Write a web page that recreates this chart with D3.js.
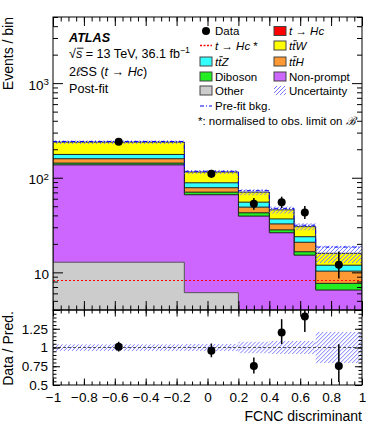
<!DOCTYPE html>
<html><head><meta charset="utf-8">
<script src="https://cdn.jsdelivr.net/npm/d3@7"></script>
<style>
body{margin:0;background:#fff}
svg{display:block;font-family:"Liberation Sans",Arial,Helvetica,sans-serif}
</style>
</head><body>
<svg id="c" width="382" height="431"></svg>
<script>
// ---------------- data ----------------
const binEdges   = [-1, -0.15, 0.2, 0.4, 0.56, 0.7, 1];
const other      = [12.8, 6.1, 2.5, 2.0, 1.5, 1.0];
const nonPrompt  = [124, 60, 36.8, 24.2, 13.7, 5.5];
const diboson    = [6.0, 4.3, 3.3, 1.9, 1.3, 1.15];
const ttH        = [16, 8.0, 6.3, 4.4, 4.3, 2.65];
const ttZ        = [17.5, 10, 6.3, 4.2, 3.0, 1.6];
const ttW        = [61.5, 26.5, 15.2, 9.1, 6.6, 4.0];
const signalNorm = [8.2, 8.2, 8.2, 8.2, 8.2, 8.2];   // t -> Hc *, normalised to obs. limit
const preFitBkg  = [242, 117, 73, 47.5, 31.5, 18.5];
const relUnc     = [0.045, 0.05, 0.08, 0.09, 0.09, 0.21];
const dataVals   = [240, 110, 53, 55, 43, 12];
const dataErrLo  = [15.0, 10.0, 7.0, 7.1, 6.3, 3.4];
const dataErrHi  = [16.0, 11.0, 8.0, 8.1, 7.4, 4.6];
const xTickVals  = [-1, -0.8, -0.6, -0.4, -0.2, 0, 0.2, 0.4, 0.6, 0.8, 1];
const yTickVals  = [10, 100, 1000];
const rTickVals  = [0.5, 0.75, 1, 1.25];

const compNames  = ["Other", "Non-prompt", "Diboson", "ttH", "ttZ", "ttW"];
const compVals   = [other, nonPrompt, diboson, ttH, ttZ, ttW];
const compColors = ["#cccccc", "#cc66ff", "#22ee22", "#ff9933", "#33ffff", "#ffff00"];
const compStroke = ["#555555", "#222222", "#222222", "#222222", "#222222", "#222222"];
const hatchColor = "#7a7aff";

// ---------------- layout ----------------
const L = 53, R = 362, T = 17, B = 310, RB = 385;
const svg = d3.select("#c");
const x  = d3.scaleLinear().domain([-1, 1]).range([L, R]);
const y  = d3.scaleLog().domain([4, 5000]).range([B, T]);
const yr = d3.scaleLinear().domain([0.5, 1.5]).range([RB, B]);

const defs = svg.append("defs");
defs.append("clipPath").attr("id", "clipMain").append("rect")
  .attr("x", L).attr("y", T).attr("width", R - L).attr("height", B - T);
defs.append("clipPath").attr("id", "clipRatio").append("rect")
  .attr("x", L).attr("y", B).attr("width", R - L).attr("height", RB - B);

let hatchId = 0;
function hatchRect(g, x0, y0, w, h) {
  const id = "hc" + (hatchId++);
  defs.append("clipPath").attr("id", id).append("rect")
    .attr("x", x0).attr("y", y0).attr("width", w).attr("height", h);
  const hg = g.append("g").attr("clip-path", `url(#${id})`);
  const start = Math.floor((x0 - h) / 4) * 4;
  for (let s = start; s <= x0 + w; s += 4) {
    hg.append("line").attr("x1", s).attr("y1", y0 + h).attr("x2", s + h).attr("y2", y0)
      .attr("stroke", hatchColor).attr("stroke-width", 1);
  }
}

const nb = dataVals.length;
const bins = d3.range(nb);
// cumulative
const cum = [];
compVals.forEach((arr, k) => {
  cum.push(arr.map((v, i) => v + (k > 0 ? cum[k - 1][i] : 0)));
});
const total = cum[cum.length - 1];

const clampY = v => Math.min(B + 2, y(Math.max(v, 1e-3)));
function stepArea(vals) {
  let p = `M${x(binEdges[0])},${B + 2}`;
  bins.forEach(i => {
    p += `L${x(binEdges[i])},${clampY(vals[i])}L${x(binEdges[i + 1])},${clampY(vals[i])}`;
  });
  p += `L${x(binEdges[nb])},${B + 2}Z`;
  return p;
}
function stepLine(vals, sc) {
  let p = "";
  bins.forEach(i => {
    p += (i === 0 ? "M" : "L") + `${x(binEdges[i])},${sc(vals[i])}L${x(binEdges[i + 1])},${sc(vals[i])}`;
  });
  return p;
}

// ---------------- main panel ----------------
const gMain = svg.append("g").attr("clip-path", "url(#clipMain)");
for (let k = cum.length - 1; k >= 0; k--) {
  gMain.append("path").attr("d", stepArea(cum[k]))
    .attr("fill", compColors[k]).attr("stroke", compStroke[k]).attr("stroke-width", 1);
}
// uncertainty band
bins.forEach(i => {
  const y0 = y(total[i] * (1 + relUnc[i])), y1 = y(total[i] * (1 - relUnc[i]));
  hatchRect(gMain, x(binEdges[i]), y0, x(binEdges[i + 1]) - x(binEdges[i]), y1 - y0);
});
// pre-fit
gMain.append("path").attr("d", stepLine(preFitBkg, y)).attr("fill", "none")
  .attr("stroke", "#0000ff").attr("stroke-width", 1).attr("stroke-dasharray", "4,2,1,2");
// signal
gMain.append("path").attr("d", stepLine(signalNorm, y)).attr("fill", "none")
  .attr("stroke", "#ff0000").attr("stroke-width", 1.2).attr("stroke-dasharray", "2,2");
// data
const xc = i => x((binEdges[i] + binEdges[i + 1]) / 2);
gMain.selectAll("line.err").data(bins).join("line").attr("class", "err")
  .attr("x1", xc).attr("x2", xc)
  .attr("y1", i => y(dataVals[i] - dataErrLo[i])).attr("y2", i => y(dataVals[i] + dataErrHi[i]))
  .attr("stroke", "#000").attr("stroke-width", 1.5);
gMain.selectAll("circle.dat").data(bins).join("circle").attr("class", "dat")
  .attr("cx", xc).attr("cy", i => y(dataVals[i])).attr("r", 4).attr("fill", "#000");

// ---------------- ratio panel ----------------
const gRat = svg.append("g").attr("clip-path", "url(#clipRatio)");
bins.forEach(i => {
  const y0 = yr(1 + relUnc[i]), y1 = yr(1 - relUnc[i]);
  hatchRect(gRat, x(binEdges[i]), y0, x(binEdges[i + 1]) - x(binEdges[i]), y1 - y0);
});
gRat.append("line").attr("x1", L).attr("x2", R).attr("y1", yr(1)).attr("y2", yr(1))
  .attr("stroke", "#555").attr("stroke-width", 1.2).attr("stroke-dasharray", "3,2");
gRat.selectAll("line.err").data(bins).join("line")
  .attr("x1", xc).attr("x2", xc)
  .attr("y1", i => yr((dataVals[i] - dataErrLo[i]) / total[i]))
  .attr("y2", i => yr((dataVals[i] + dataErrHi[i]) / total[i]))
  .attr("stroke", "#000").attr("stroke-width", 1.5);
gRat.selectAll("circle").data(bins).join("circle")
  .attr("cx", xc).attr("cy", i => yr(dataVals[i] / total[i])).attr("r", 4).attr("fill", "#000");

// ---------------- axes ----------------
const fs = 13.5;
function style(g) {
  g.select(".domain").remove();
  g.selectAll(".tick line").attr("stroke", "#000").attr("stroke-width", 1);
  g.selectAll("text").attr("font-size", fs).attr("fill", "#000").attr("font-family", null);
}
const xMinor = d3.range(-1, 1.0001, 0.05).map(v => +v.toFixed(2));
const fmtX = d => d3.format("")(d);
// main x (bottom & top, no labels)
[[B, d3.axisBottom, -9, -4.5], [T, d3.axisTop, -9, -4.5]].forEach(([yy, ax, maj, mn]) => {
  svg.append("g").attr("transform", `translate(0,${yy})`).call(ax(x).tickValues(xMinor).tickSize(mn).tickFormat("")).call(style);
  svg.append("g").attr("transform", `translate(0,${yy})`).call(ax(x).tickValues(xTickVals).tickSize(maj).tickFormat("")).call(style);
});
// ratio x
svg.append("g").attr("transform", `translate(0,${B})`).call(d3.axisTop(x).tickValues(xMinor).tickSize(-3.5).tickFormat("")).call(style);
svg.append("g").attr("transform", `translate(0,${B})`).call(d3.axisTop(x).tickValues(xTickVals).tickSize(-6.5).tickFormat("")).call(style);
svg.append("g").attr("transform", `translate(0,${RB})`).call(d3.axisBottom(x).tickValues(xMinor).tickSize(-3.5).tickFormat("")).call(style);
svg.append("g").attr("transform", `translate(0,${RB})`)
  .call(d3.axisBottom(x).tickValues(xTickVals).tickSize(-6.5).tickPadding(7).tickFormat(fmtX)).call(style);

// main y log
const yMinor = [];
[1, 10, 100, 1000].forEach(d => d3.range(2, 10).forEach(m => { const v = d * m; if (v >= 4 && v <= 5000) yMinor.push(v); }));
[[L, d3.axisLeft], [R, d3.axisRight]].forEach(([xx, ax]) => {
  svg.append("g").attr("transform", `translate(${xx},0)`).call(ax(y).tickValues(yMinor).tickSize(-5).tickFormat("")).call(style);
});
svg.append("g").attr("transform", `translate(${R},0)`).call(d3.axisRight(y).tickValues(yTickVals).tickSize(-10).tickFormat("")).call(style);
const gy = svg.append("g").attr("transform", `translate(${L},0)`)
  .call(d3.axisLeft(y).tickValues(yTickVals).tickSize(-10).tickPadding(4).tickFormat(d => String(d))).call(style);
gy.selectAll(".tick text").each(function (d) {
  const t = d3.select(this);
  t.text(null).attr("dy", "0.45em");
  if (d === 10) { t.append("tspan").text("10"); }
  else {
    t.append("tspan").text("10");
    t.append("tspan").attr("dy", "-0.45em").attr("font-size", fs * 0.72).text(String(Math.round(Math.log10(d))));
  }
});

// ratio y
const rMinor = d3.range(0.5, 1.5001, 0.05).map(v => +v.toFixed(2));
[[L, d3.axisLeft], [R, d3.axisRight]].forEach(([xx, ax]) => {
  svg.append("g").attr("transform", `translate(${xx},0)`).call(ax(yr).tickValues(rMinor).tickSize(-3.5).tickFormat("")).call(style);
  svg.append("g").attr("transform", `translate(${xx},0)`).call(ax(yr).tickValues([0.5, 0.75, 1, 1.25, 1.5]).tickSize(-7).tickFormat("")).call(style);
});
svg.append("g").attr("transform", `translate(${L},0)`)
  .call(d3.axisLeft(yr).tickValues(rTickVals).tickSize(0).tickPadding(5).tickFormat(d => String(d))).call(style);

// frames
svg.append("rect").attr("x", L).attr("y", T).attr("width", R - L).attr("height", B - T)
  .attr("fill", "none").attr("stroke", "#000").attr("stroke-width", 1);
svg.append("rect").attr("x", L).attr("y", B).attr("width", R - L).attr("height", RB - B)
  .attr("fill", "none").attr("stroke", "#000").attr("stroke-width", 1);

// axis titles
svg.append("text").attr("transform", `translate(13,${T}) rotate(-90)`).attr("text-anchor", "end")
  .attr("font-size", 14).text("Events / bin");
svg.append("text").attr("transform", `translate(13,${(B + RB) / 2 + 1}) rotate(-90)`).attr("text-anchor", "middle")
  .attr("font-size", 14).text("Data / Pred.");
svg.append("text").attr("x", R).attr("y", 421).attr("text-anchor", "end")
  .attr("font-size", 14).text("FCNC discriminant");

// ---------------- rich text helper ----------------
// parts: [text, flags]  flags: i=italic, b=overbar, s=superscript, B=bold
function rich(g, xx, yy, parts, size) {
  const t = g.append("text").attr("x", xx).attr("y", yy).attr("font-size", size).attr("fill", "#000");
  const bars = [];
  parts.forEach(([txt, f]) => {
    f = f || "";
    const sp = t.append("tspan").text(txt);
    if (f.includes("i")) sp.attr("font-style", "italic");
    if (f.includes("B")) sp.attr("font-weight", "bold");
    if (f.includes("s")) sp.attr("font-size", size * 0.7).attr("dy", -size * 0.38);
    if (f.includes("b")) bars.push(sp);
  });
  bars.forEach(sp => {
    const bb = sp.node().getBBox();
    g.append("line").attr("x1", bb.x + 1.2).attr("x2", bb.x + bb.width + 0.6)
      .attr("y1", bb.y + 1.2).attr("y2", bb.y + 1.2).attr("stroke", "#000").attr("stroke-width", 0.9);
  });
  return t;
}

// ---------------- labels ----------------
const gl = svg.append("g");
rich(gl, 69, 41.5, [["ATLAS", "iB"]], 12.6);
rich(gl, 69, 58, [["√"], ["s", "ib"], [" = 13 TeV, 36.1 fb"], ["−1", "s"]], 12.6);
rich(gl, 69, 76, [["2"], ["ℓ", "i"], ["SS  ("], ["t", "i"], [" → "], ["Hc", "i"], [")"]], 12.6);
rich(gl, 69, 92.5, [["Post-fit"]], 12.6);

// ---------------- legend ----------------
const lf = 11.5;
const rowY = [31, 45.5, 61.5, 76.5, 90.5, 106];
const c1 = 200, c2 = 274, bw = 12, bh = 9;
const leg = svg.append("g");
// column 1
leg.append("circle").attr("cx", c1 + 6).attr("cy", rowY[0]).attr("r", 4).attr("fill", "#000");
rich(leg, 215, rowY[0] + 4, [["Data"]], lf);
leg.append("line").attr("x1", c1).attr("x2", c1 + 12).attr("y1", rowY[1]).attr("y2", rowY[1])
  .attr("stroke", "#ff0000").attr("stroke-width", 1.5).attr("stroke-dasharray", "2,1.5");
rich(leg, 215, rowY[1] + 4, [["t", "i"], [" → "], ["Hc", "i"], [" *"]], lf);
const box = (xx, yy, col) => leg.append("rect").attr("x", xx).attr("y", yy - bh / 2).attr("width", bw).attr("height", bh)
  .attr("fill", col).attr("stroke", "#444").attr("stroke-width", 1);
box(c1, rowY[2], compColors[4]); rich(leg, 215, rowY[2] + 4, [["t", "i"], ["t", "ib"], ["Z", "i"]], lf);
box(c1, rowY[3], compColors[2]); rich(leg, 215, rowY[3] + 4, [["Diboson"]], lf);
box(c1, rowY[4], compColors[0]); rich(leg, 215, rowY[4] + 4, [["Other"]], lf);
leg.append("line").attr("x1", c1).attr("x2", c1 + 12).attr("y1", rowY[5]).attr("y2", rowY[5])
  .attr("stroke", "#0000ff").attr("stroke-width", 1).attr("stroke-dasharray", "4,2,1,2");
rich(leg, 215, rowY[5] + 4, [["Pre-fit bkg."]], lf);
rich(leg, 198, 124.5, [["*: normalised to obs. limit on "], ["ℬ", "i"]], lf);
// column 2
box(c2, rowY[0], "#ff0000"); rich(leg, 289, rowY[0] + 4, [["t", "i"], [" → "], ["Hc", "i"]], lf);
box(c2, rowY[1], compColors[5]); rich(leg, 289, rowY[1] + 4, [["t", "i"], ["t", "ib"], ["W", "i"]], lf);
box(c2, rowY[2], compColors[3]); rich(leg, 289, rowY[2] + 4, [["t", "i"], ["t", "ib"], ["H", "i"]], lf);
box(c2, rowY[3], compColors[1]); rich(leg, 289, rowY[3] + 4, [["Non-prompt"]], lf);
hatchRect(leg, c2, rowY[4] - bh / 2, bw, bh);
rich(leg, 289, rowY[4] + 4, [["Uncertainty"]], lf);
</script>
</body></html>
